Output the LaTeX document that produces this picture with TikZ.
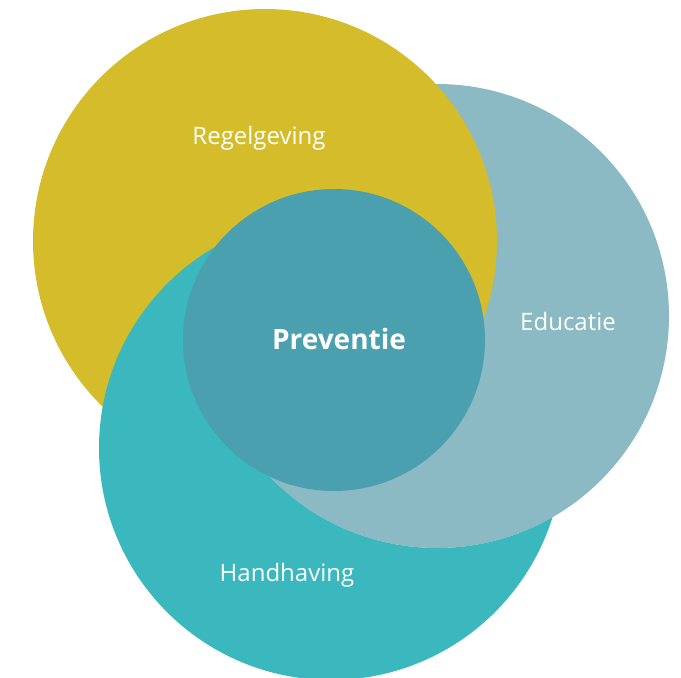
\documentclass[tikz,border=0pt]{standalone}
\usepackage{fontspec}
\setmainfont{Open Sans}
\definecolor{regelc}{HTML}{D4BC2A}
\definecolor{educc}{HTML}{8BB9C4}
\definecolor{handc}{HTML}{3AB8BD}
\definecolor{prevc}{HTML}{4AA0AE}
\tikzstyle{preventie} = [
  x=1pt,
  y=-1pt,
  circletext/.style={
    text=white,
    font=\fontsize{24}{28}\selectfont,
  },
]

\begin{document}
\begin{tikzpicture}[preventie]
      \def\radius{232pt}
      \useasboundingbox (0,0) rectangle (681,678);

      \coordinate (R) at (265,241);
      \coordinate (E) at (437,316);
      \coordinate (H) at (331,448);
      \coordinate (P) at (334,340);

      % Circles
      \fill[educc] (E) circle(\radius);
      \fill[regelc] (R) circle(\radius);

      % Handhaving only outside Educatie
      \begin{scope}[even odd rule]
          \clip (-10,-10) rectangle (691,688) (E) circle(\radius);
          \fill[handc] (H) circle(\radius);
      \end{scope}

      % Centre
      \fill[prevc] (P) circle(151pt);

      % Labels
      \node[circletext] (regel) at (259,138) {Regelgeving};
      \node[circletext] (educ) at (568,321) {Educatie};
      \node[circletext] (hand) at (287,575) {Handhaving};
      \node[circletext, font=\fontsize{28}{32}\selectfont\bfseries] (prev) at (339,339) {Preventie};
    \end{tikzpicture}
\end{document}
